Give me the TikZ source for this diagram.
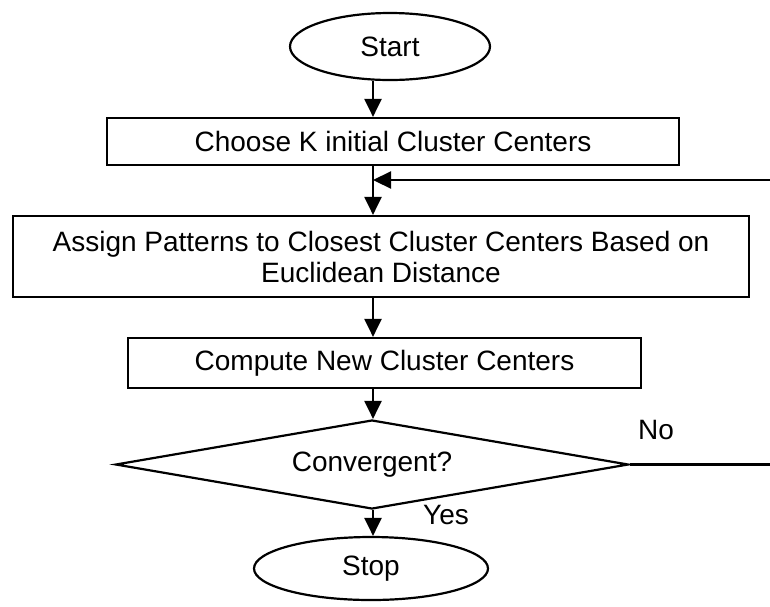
\documentclass[tikz,border=0pt]{standalone}
\usepackage{fontspec}
\setmainfont{Liberation Sans}
\usetikzlibrary{shapes.geometric,arrows.meta}
\begin{document}
\begin{tikzpicture}[x=1pt,y=-1pt,
  every node/.style={font=\fontsize{28}{31}\selectfont, inner sep=0pt},
  termbox/.style={draw, line width=2.2pt, ellipse},
  procbox/.style={draw, line width=2.2pt, rectangle, align=center},
  decbox/.style={draw, line width=2.2pt, diamond, aspect=5.64},
  lbl/.style={inner sep=0pt},
  arr/.style={line width=2.2pt, -{Triangle[width=17pt,length=18pt]}},
  plain/.style={line width=2.2pt},
]
\useasboundingbox (0,0) rectangle (770,606);
\coordinate (spine) at (373,0);
\node[termbox, minimum width=200pt, minimum height=67pt] (start) at (390,46.5) {Start};
\node[procbox, minimum width=572pt, minimum height=47pt] (choose) at (393,141.5) {Choose K initial Cluster Centers};
\node[procbox, minimum width=736pt, minimum height=81pt] (assign) at (381,256.5) {Assign Patterns to Closest Cluster Centers Based on\\Euclidean Distance};
\node[procbox, minimum width=513pt, minimum height=50pt] (compute) at (384.5,363) {Compute New Cluster Centers};
\node[decbox, minimum width=513pt, minimum height=89pt] (conv) at (372,464.5) {Convergent?};
\node[termbox, minimum width=234pt, minimum height=63pt] (stop) at (371,568.5) {Stop};
\node[lbl] (no) at (656,430) {No};
\node[lbl] (yes) at (446,515) {Yes};
\coordinate (fb) at (373,180);
\coordinate (edgeA) at (770,464.5);
\coordinate (edgeB) at (770,180);
\draw[arr] (start.south -| spine) -- (choose.north -| spine);
\draw[arr] (choose.south -| spine) -- (assign.north -| spine);
\draw[arr] (edgeB) -- (fb);
\draw[arr] (assign.south -| spine) -- (compute.north -| spine);
\draw[arr] (compute.south -| spine) -- (conv.north -| spine);
\draw[arr] (conv.south -| spine) -- (stop.north -| spine);
\draw[plain] (conv.east) -- (edgeA);
\end{tikzpicture}
\end{document}
